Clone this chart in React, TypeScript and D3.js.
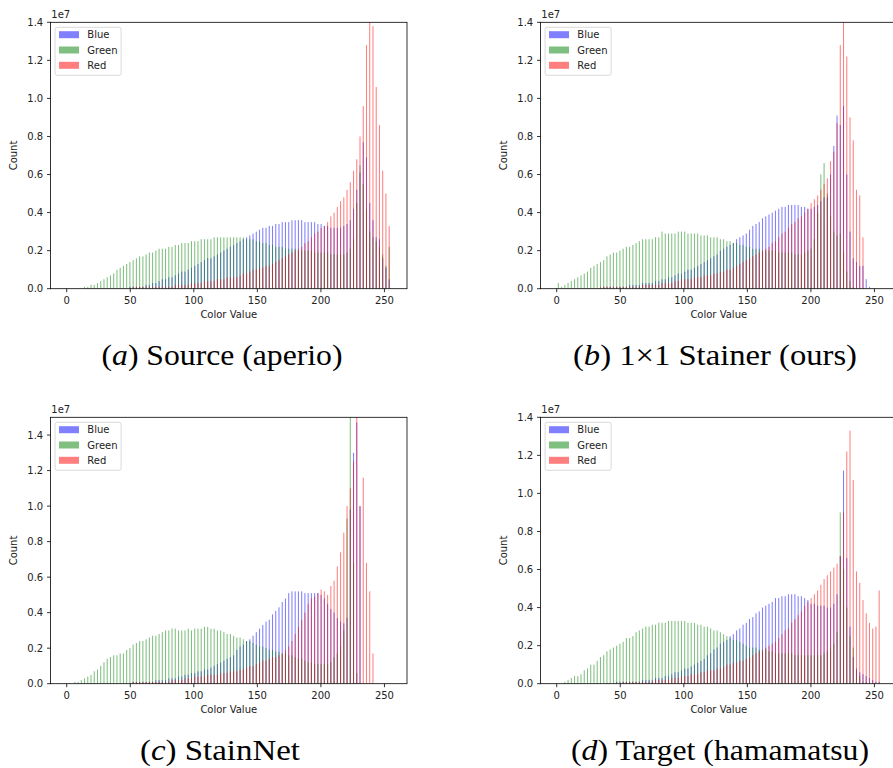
import React from 'react';
import * as d3 from 'd3';

// histograms: 100 bins over 0..255, counts in units of 1e5
const binCount = 100;
const valueMax = 255;
const channelNames = ['Blue', 'Green', 'Red'];
const channelColors = ['#0000ff', '#008000', '#ff0000'];
const xTicks = [0, 50, 100, 150, 200, 250];

// (a) Source (aperio)
const sourceBlue = [
  0, 0, 0, 0, 0, 0, 0, 0, 0, 0,
  0, 0, 0, 0, 0, 0, 0, 0, 0, 1,
  1, 1, 1, 1, 2, 2, 3, 3, 4, 5,
  5, 6, 6, 7, 8, 9, 9, 10, 11, 12,
  13, 14, 15, 16, 16, 17, 18, 19, 20, 21,
  22, 23, 24, 25, 26, 27, 28, 29, 30, 31,
  32, 32, 33, 33, 34, 34, 35, 35, 35, 36,
  36, 36, 36, 35, 35, 35, 35, 34, 34, 33,
  33, 32, 32, 32, 32, 33, 34, 36, 42, 52,
  61, 77, 69, 45, 36, 27, 26, 16, 11, 5,
];
const sourceGreen = [
  0, 0, 0, 0, 0, 1, 1, 2, 2, 3,
  4, 5, 6, 7, 8, 10, 11, 12, 13, 14,
  15, 16, 17, 17, 18, 19, 19, 20, 21, 21,
  21, 22, 22, 23, 23, 24, 24, 24, 25, 25,
  25, 26, 26, 26, 26, 27, 27, 27, 27, 27,
  27, 27, 27, 27, 27, 26, 26, 26, 25, 25,
  24, 24, 23, 23, 22, 22, 22, 21, 21, 21,
  21, 20, 20, 20, 20, 20, 19, 19, 19, 19,
  19, 18, 18, 18, 18, 18, 19, 21, 26, 45,
  65, 55, 42, 30, 27, 25, 22, 18, 12, 22,
];
const sourceRed = [
  0, 0, 0, 0, 0, 0, 0, 0, 0, 0,
  0, 0, 0, 0, 0, 0, 0, 0, 0, 0,
  1, 1, 1, 1, 1, 1, 1, 1, 1, 1,
  1, 1, 1, 2, 2, 2, 2, 2, 3, 3,
  3, 3, 4, 4, 4, 4, 5, 5, 5, 6,
  6, 6, 6, 7, 8, 8, 9, 10, 10, 11,
  11, 12, 12, 13, 14, 15, 16, 17, 18, 19,
  20, 21, 22, 24, 25, 27, 29, 30, 32, 33,
  35, 38, 40, 43, 46, 48, 52, 56, 62, 68,
  80, 96, 128, 142, 138, 106, 86, 62, 50, 33,
];

// (b) 1x1 Stainer (ours)
const stainerBlue = [
  0, 0, 0, 0, 0, 0, 0, 0, 0, 0,
  0, 0, 0, 0, 1, 1, 1, 1, 1, 1,
  1, 1, 2, 2, 2, 2, 3, 3, 3, 3,
  4, 4, 5, 5, 6, 6, 7, 8, 8, 9,
  10, 10, 11, 12, 13, 14, 15, 16, 17, 18,
  20, 21, 22, 23, 24, 26, 27, 28, 29, 31,
  33, 34, 35, 37, 38, 39, 40, 41, 42, 43,
  43, 44, 44, 44, 44, 43, 43, 42, 42, 43,
  44, 46, 48, 48, 60, 75, 91, 86, 96, 60,
  30, 16, 14, 12, 12, 5, 1, 0, 0, 0,
];
const stainerGreen = [
  3, 1, 2, 3, 4, 5, 6, 7, 8, 9,
  11, 12, 13, 14, 15, 17, 18, 19, 19, 20,
  21, 22, 22, 23, 24, 25, 26, 26, 26, 26,
  27, 27, 30, 29, 29, 29, 29, 30, 30, 30,
  29, 29, 29, 29, 28, 28, 28, 27, 27, 27,
  26, 26, 25, 25, 24, 24, 23, 23, 22, 22,
  21, 21, 21, 20, 20, 20, 20, 20, 19, 19,
  19, 19, 19, 18, 18, 18, 19, 20, 21, 26,
  40, 60, 66, 50, 38, 30, 28, 29, 19, 9,
  4, 1, 0, 0, 0, 0, 0, 0, 0, 0,
];
const stainerRed = [
  0, 0, 0, 0, 0, 0, 0, 0, 0, 0,
  0, 0, 0, 1, 1, 1, 1, 1, 1, 1,
  1, 1, 1, 1, 1, 1, 2, 2, 2, 2,
  2, 2, 3, 3, 3, 3, 4, 4, 5, 5,
  5, 5, 6, 6, 6, 7, 7, 7, 8, 8,
  9, 9, 10, 10, 11, 12, 13, 14, 15, 16,
  17, 18, 19, 20, 21, 22, 24, 25, 27, 29,
  30, 32, 34, 35, 37, 38, 40, 42, 45, 47,
  49, 52, 55, 58, 67, 72, 87, 128, 142, 122,
  90, 78, 52, 49, 27, 0, 0, 0, 0, 0,
];

// (c) StainNet
const stainNetBlue = [
  0, 0, 0, 0, 0, 0, 0, 0, 0, 0,
  0, 0, 0, 0, 0, 0, 0, 0, 0, 0,
  1, 1, 1, 1, 1, 1, 1, 2, 2, 2,
  2, 3, 3, 3, 4, 4, 5, 5, 6, 6,
  7, 7, 8, 8, 9, 10, 11, 12, 13, 14,
  15, 16, 19, 21, 22, 24, 25, 27, 29, 31,
  33, 35, 36, 39, 41, 43, 46, 48, 51, 52,
  52, 52, 52, 51, 51, 51, 51, 51, 50, 48,
  45, 42, 40, 37, 35, 34, 37, 98, 130, 147,
  100, 0, 0, 0, 0, 0, 0, 0, 0, 0,
];
const stainNetGreen = [
  0, 0, 1, 1, 2, 3, 4, 5, 7, 8,
  10, 12, 14, 15, 16, 16, 17, 17, 19, 20,
  22, 23, 24, 24, 25, 26, 27, 27, 28, 29,
  30, 30, 31, 31, 30, 30, 30, 31, 30, 31,
  31, 31, 32, 32, 31, 31, 30, 30, 29, 28,
  28, 27, 26, 26, 25, 24, 24, 23, 22, 21,
  21, 20, 19, 19, 18, 18, 17, 17, 16, 16,
  15, 14, 14, 13, 12, 12, 11, 11, 11, 11,
  11, 12, 15, 17, 21, 30, 93, 165, 68, 6,
  0, 0, 0, 0, 0, 0, 0, 0, 0, 0,
];
const stainNetRed = [
  0, 0, 0, 0, 0, 0, 0, 0, 0, 0,
  0, 0, 0, 0, 0, 0, 0, 0, 0, 0,
  1, 1, 1, 1, 1, 1, 1, 1, 1, 1,
  1, 1, 2, 2, 2, 2, 3, 3, 3, 4,
  4, 4, 4, 5, 5, 5, 5, 6, 6, 6,
  7, 7, 7, 8, 8, 9, 10, 10, 11, 12,
  13, 13, 14, 15, 15, 16, 17, 19, 21, 24,
  28, 32, 36, 40, 45, 48, 49, 51, 53, 52,
  50, 55, 58, 66, 74, 85, 100, 110, 125, 165,
  100, 116, 68, 52, 17, 0, 0, 0, 0, 0,
];

// (d) Target (hamamatsu)
const targetBlue = [
  0, 0, 0, 0, 0, 0, 0, 0, 0, 0,
  0, 0, 0, 0, 0, 0, 0, 0, 1, 1,
  1, 1, 1, 1, 1, 1, 2, 2, 2, 2,
  3, 3, 3, 4, 4, 5, 6, 6, 7, 8,
  8, 9, 10, 11, 12, 13, 15, 16, 18, 19,
  21, 22, 23, 25, 26, 28, 29, 31, 32, 34,
  35, 37, 38, 40, 41, 42, 43, 45, 45, 46,
  46, 47, 47, 47, 46, 46, 45, 44, 42, 42,
  41, 41, 41, 40, 40, 42, 47, 67, 112, 66,
  30, 14, 8, 6, 5, 4, 3, 2, 1, 1,
];
const targetGreen = [
  0, 0, 1, 2, 3, 4, 4, 5, 7, 8,
  10, 10, 12, 14, 15, 17, 18, 19, 20, 21,
  22, 24, 24, 25, 27, 28, 29, 30, 30, 31,
  31, 32, 32, 32, 33, 33, 33, 33, 33, 33,
  32, 32, 32, 31, 31, 30, 30, 29, 28, 28,
  27, 26, 25, 24, 23, 23, 22, 21, 20, 19,
  19, 19, 18, 18, 18, 17, 17, 16, 16, 16,
  16, 16, 16, 15, 15, 15, 15, 15, 15, 15,
  15, 15, 16, 17, 19, 21, 27, 90, 60, 40,
  25, 19, 7, 4, 1, 1, 0, 0, 0, 0,
];
const targetRed = [
  0, 0, 0, 0, 0, 0, 0, 0, 0, 0,
  0, 0, 0, 0, 0, 0, 0, 0, 0, 0,
  1, 1, 1, 1, 1, 1, 1, 1, 1, 1,
  2, 2, 2, 2, 2, 3, 3, 3, 4, 4,
  4, 5, 5, 5, 6, 6, 7, 7, 7, 8,
  8, 9, 10, 10, 11, 11, 12, 12, 13, 14,
  15, 16, 17, 17, 19, 20, 21, 22, 24, 26,
  28, 29, 32, 34, 36, 38, 41, 43, 45, 47,
  49, 52, 55, 57, 59, 61, 63, 67, 90, 122,
  133, 107, 59, 53, 44, 37, 32, 29, 30, 49,
];

// layout
const AX_W = 356.5;
const AX_H = 266.4;
const X_DOMAIN = [-12.75, 267.75];

const panels = [
  { id: 'a', letter: 'a', title: ' Source (aperio)', series: [sourceBlue, sourceGreen, sourceRed], yMax: 140, left: 50.5, top: 22.3, capX: 222, capW: 241 },
  { id: 'b', letter: 'b', title: ' 1\u00d71 Stainer (ours)', series: [stainerBlue, stainerGreen, stainerRed], yMax: 140, left: 540.5, top: 22.3, capX: 715, capW: 284 },
  { id: 'c', letter: 'c', title: ' StainNet', series: [stainNetBlue, stainNetGreen, stainNetRed], yMax: 150, left: 50.5, top: 417.3, capX: 220, capW: 160 },
  { id: 'd', letter: 'd', title: ' Target (hamamatsu)', series: [targetBlue, targetGreen, targetRed], yMax: 140, left: 540.5, top: 417.3, capX: 720, capW: 298 },
];

const font = 'DejaVu Sans, sans-serif';
const ink = '#222';

function Histogram({ p }) {
  const x = d3.scaleLinear().domain(X_DOMAIN).range([0, AX_W]);
  const y = d3.scaleLinear().domain([0, p.yMax]).range([AX_H, 0]);
  const binW = valueMax / binCount;
  const barW = (x(binW) - x(0)) * 0.32;
  const yTicks = d3.range(0, p.yMax + 1, 20);
  const clipId = 'clip-' + p.id;

  return (
    <g transform={`translate(${p.left},${p.top})`}>
      <defs>
        <clipPath id={clipId}>
          <rect x={0} y={0} width={AX_W} height={AX_H} />
        </clipPath>
      </defs>

      <g clipPath={`url(#${clipId})`}>
        {p.series.map((vals, k) => (
          <g key={k} fill={channelColors[k]} fillOpacity={0.5}>
            {vals.map((v, i) => {
              if (!v) return null;
              const cx = x(i * binW + binW / 2);
              return <rect key={i} x={cx - barW / 2} y={y(v)} width={barW} height={AX_H - y(v)} />;
            })}
          </g>
        ))}
      </g>

      {/* spines */}
      <rect x={0} y={0} width={AX_W} height={AX_H} fill="none" stroke="#000" strokeWidth={0.8} />

      {/* x axis */}
      {xTicks.map((t) => (
        <g key={t} transform={`translate(${x(t)},${AX_H})`}>
          <line y2={3.5} stroke="#000" strokeWidth={0.8} />
          <text y={15.5} textAnchor="middle" fontSize={10} fontFamily={font} fill={ink}>{t}</text>
        </g>
      ))}
      <text x={AX_W / 2} y={AX_H + 29.3} textAnchor="middle" fontSize={10} fontFamily={font} fill={ink}>Color Value</text>

      {/* y axis */}
      {yTicks.map((t) => (
        <g key={t} transform={`translate(0,${y(t)})`}>
          <line x2={-3.5} stroke="#000" strokeWidth={0.8} />
          <text x={-7.3} y={3.6} textAnchor="end" fontSize={10} fontFamily={font} fill={ink}>{(t / 100).toFixed(1)}</text>
        </g>
      ))}
      <text x={0.8} y={-4.3} fontSize={10} fontFamily={font} fill={ink}>1e7</text>
      <text transform={`translate(${-33.6},${AX_H / 2}) rotate(-90)`} textAnchor="middle" fontSize={10} fontFamily={font} fill={ink}>Count</text>

      {/* legend */}
      <rect x={4.6} y={5} width={66} height={48} rx={2} fill="#fff" fillOpacity={0.8} stroke="#d0d0d0" strokeWidth={0.8} />
      {channelNames.map((name, k) => (
        <g key={name} transform={`translate(0,${12.4 + k * 15.3})`}>
          <rect x={8.5} y={-3.5} width={20} height={7} fill={channelColors[k]} fillOpacity={0.5} />
          <text x={36.8} y={3.6} fontSize={10} fontFamily={font} fill={ink}>{name}</text>
        </g>
      ))}
    </g>
  );
}

export default function App() {
  return (
    <div>
      <style>{'body{margin:0;} .cap{font-family:"Liberation Serif","Times New Roman",serif;}'}</style>
      <svg width={893} height={768} style={{ display: 'block', background: '#fff' }}>
        {panels.map((p) => (
          <Histogram key={p.id} p={p} />
        ))}
        {panels.map((p) => (
          <text
            key={'cap-' + p.id}
            className="cap"
            x={p.capX}
            y={p.top + AX_H + 76}
            textAnchor="middle"
            fontSize={29}
            fill="#000"
            textLength={p.capW}
            lengthAdjust="spacingAndGlyphs"
          >
            (<tspan fontStyle="italic">{p.letter}</tspan>){p.title}
          </text>
        ))}
      </svg>
    </div>
  );
}
